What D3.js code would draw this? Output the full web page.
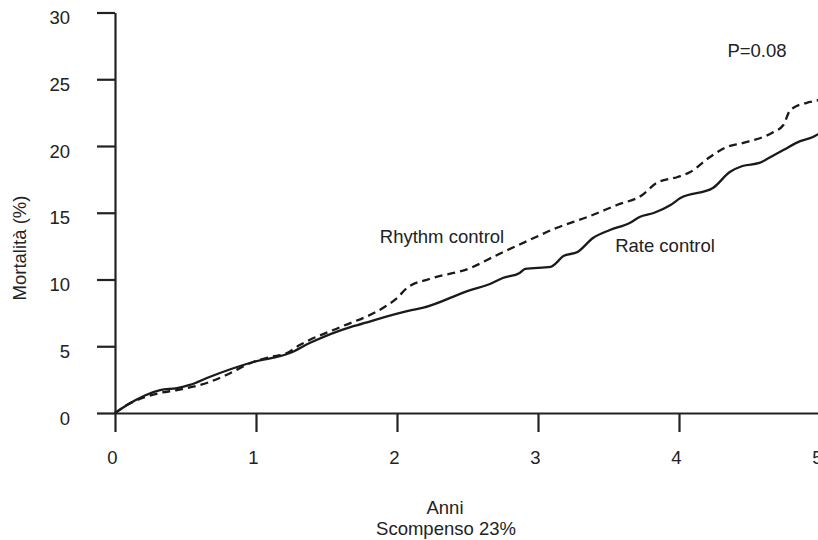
<!DOCTYPE html>
<html>
<head>
<meta charset="utf-8">
<script src="https://cdn.jsdelivr.net/npm/d3@7"></script>
<style>
  body { margin: 0; background: #fff; }
  svg text { font-family: "Liberation Sans", Arial, sans-serif; fill: #222; }
</style>
</head>
<body>
<div id="chart"></div>
<script>
// data (years, mortality %)
const rateYears = [0, 0.085, 0.32, 0.44, 0.53, 0.67, 0.98, 1.24, 1.38, 1.67, 1.72, 2.11, 2.18, 2.52, 2.66, 2.75, 2.87, 2.91, 3.09, 3.13, 3.18, 3.28, 3.39, 3.51, 3.65, 3.72, 3.82, 3.94, 4.01, 4.24, 4.36, 4.45, 4.57, 4.65, 4.74, 4.86, 4.95, 5.0];
const rateValues = [0, 0.6, 1.72, 1.87, 2.1, 2.7, 3.82, 4.49, 5.24, 6.44, 6.59, 7.72, 7.87, 9.21, 9.66, 10.11, 10.49, 10.79, 10.94, 11.24, 11.76, 12.06, 13.11, 13.71, 14.23, 14.68, 14.98, 15.58, 16.1, 16.85, 18.05, 18.5, 18.73, 19.18, 19.7, 20.37, 20.67, 20.97];

const rhythmYears = [0, 0.085, 0.32, 0.44, 0.67, 0.79, 0.98, 1.1, 1.22, 1.31, 1.38, 1.6, 1.9, 2.0, 2.07, 2.23, 2.52, 2.71, 2.94, 3.13, 3.35, 3.56, 3.74, 3.84, 3.99, 4.08, 4.22, 4.34, 4.45, 4.67, 4.74, 4.79, 4.93, 5.0];
const rhythmValues = [0, 0.6, 1.5, 1.72, 2.32, 2.85, 3.82, 4.19, 4.49, 5.09, 5.47, 6.44, 7.87, 8.61, 9.36, 10.04, 10.86, 11.84, 12.96, 13.86, 14.68, 15.58, 16.33, 17.23, 17.68, 18.05, 19.18, 19.93, 20.22, 21.05, 21.57, 22.7, 23.3, 23.45];

const xTicks = [0, 1, 2, 3, 4, 5];
const yTicks = [0, 5, 10, 15, 20, 25, 30];

const W = 818, H = 540;
const svg = d3.select("#chart").append("svg")
  .attr("width", W).attr("height", H);

const x = d3.scaleLinear().domain([0, 5]).range([115, 820]);
const y = d3.scaleLinear().domain([0, 30]).range([413, 12.5]);

const fs = "18.5px";

// axes
const gx = svg.append("g").attr("transform", "translate(0,413)")
  .call(d3.axisBottom(x).tickValues(xTicks).tickFormat(d3.format("d"))
    .tickSize(19).tickSizeOuter(0).tickPadding(19));
const gy = svg.append("g").attr("transform", "translate(115,0)")
  .call(d3.axisLeft(y).tickValues(yTicks).tickFormat(d3.format("d"))
    .tickSize(18).tickSizeOuter(0).tickPadding(27));

[gx, gy].forEach(g => {
  g.select(".domain").attr("stroke", "#222").attr("stroke-width", 2.2);
  g.selectAll(".tick line").attr("stroke", "#222").attr("stroke-width", 2.2);
  g.selectAll(".tick text").style("font-size", fs).attr("fill", "#222");
});
gy.selectAll(".tick text").attr("dy", "0.6em");
gx.selectAll(".tick text").attr("dx", "-3");

// curves
const line = d3.line()
  .x(d => x(d[0]))
  .y(d => y(d[1]))
  .curve(d3.curveMonotoneX);

svg.append("path")
  .datum(d3.zip(rhythmYears, rhythmValues))
  .attr("d", line)
  .attr("fill", "none")
  .attr("stroke", "#1a1a1a")
  .attr("stroke-width", 2.3)
  .attr("stroke-dasharray", "8,5");

svg.append("path")
  .datum(d3.zip(rateYears, rateValues))
  .attr("d", line)
  .attr("fill", "none")
  .attr("stroke", "#1a1a1a")
  .attr("stroke-width", 2.3);

// labels
const label = (tx, ty, s, rot) => {
  const t = svg.append("text")
    .attr("text-anchor", "middle")
    .attr("dominant-baseline", "central")
    .style("font-size", fs)
    .text(s);
  if (rot) t.attr("transform", `translate(${tx},${ty}) rotate(-90)`);
  else t.attr("x", tx).attr("y", ty);
};
label(442, 236, "Rhythm control");
label(665, 245, "Rate control");
label(757, 50, "P=0.08");
label(445, 507, "Anni");
label(446, 528, "Scompenso 23%");
label(19, 248, "Mortalità (%)", true);
</script>
</body>
</html>
